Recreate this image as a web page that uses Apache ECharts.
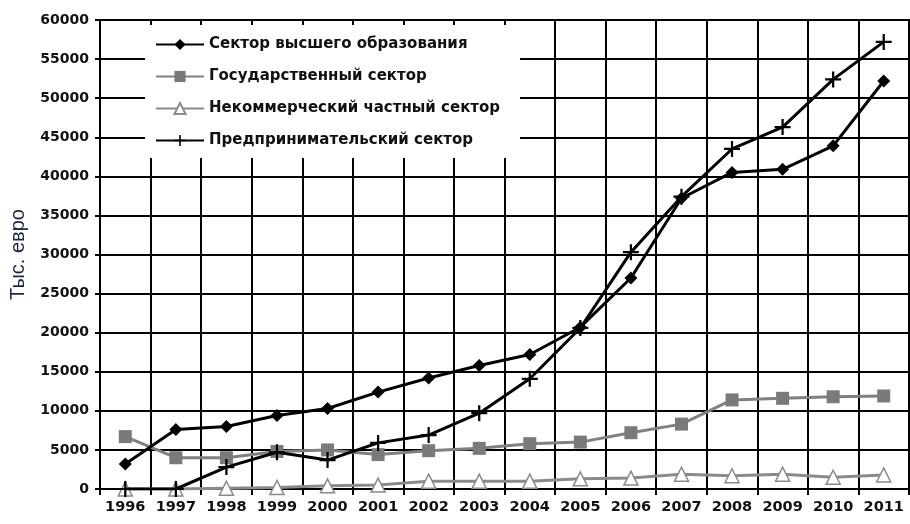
<!DOCTYPE html>
<html>
<head>
<meta charset="utf-8">
<script src="https://cdn.jsdelivr.net/npm/echarts@6/dist/echarts.min.js"></script>
<style>
  html, body { margin: 0; padding: 0; background: #fff; }
  #chart { width: 910px; height: 524px; }
</style>
</head>
<body>
<div id="chart"></div>
<script>
// годы
var years = ['1996','1997','1998','1999','2000','2001','2002','2003','2004','2005','2006','2007','2008','2009','2010','2011'];
// тыс. евро по секторам
var higherEdu = [3200, 7600, 8000, 9400, 10300, 12400, 14200, 15800, 17200, 20700, 27000, 37200, 40500, 40900, 43900, 52200];
var government = [6700, 4000, 4000, 4800, 5000, 4400, 4900, 5200, 5800, 6000, 7200, 8300, 11400, 11600, 11800, 11900];
var nonProfit = [0, 0, 100, 200, 400, 500, 1000, 1000, 1000, 1300, 1400, 1900, 1700, 1900, 1500, 1800];
var business = [0, 0, 2800, 4700, 3700, 5900, 6900, 9700, 14100, 20600, 30300, 37400, 43500, 46300, 52400, 57200];

var names = ['Сектор высшего образования', 'Государственный сектор', 'Некоммерческий частный сектор', 'Предпринимательский сектор'];

var chart = echarts.init(document.getElementById('chart'));
var boldFont = 'DejaVu Sans, sans-serif';
var plus = 'path://M4.3,0h1.4v10h-1.4z M0,4.3h10v1.4h-10z';

var option = {
  animation: false,
  textStyle: { fontFamily: boldFont },
  grid: {
    left: 100, right: 1, top: 20, bottom: 35,
    outerBoundsMode: 'none',
    show: true, borderColor: '#000', borderWidth: 2
  },
  legend: {
    orient: 'vertical',
    left: 145,
    top: 25,
    padding: [12, 20, 10, 10],
    itemGap: 17,
    itemWidth: 48,
    itemHeight: 14,
    backgroundColor: '#fff',
    textStyle: { fontFamily: boldFont, fontWeight: 'bold', fontSize: 15, color: '#111' },
    data: names
  },
  xAxis: {
    type: 'category',
    data: years,
    boundaryGap: true,
    axisLine: { lineStyle: { color: '#000', width: 2 } },
    axisTick: { show: true, length: 6, lineStyle: { color: '#000', width: 2 } },
    axisLabel: { color: '#111', fontWeight: 'bold', fontSize: 14.5, margin: 11, interval: 0 },
    splitLine: { show: true, lineStyle: { color: '#000', width: 2 } }
  },
  yAxis: {
    type: 'value',
    min: 0,
    max: 60000,
    interval: 5000,
    name: 'Тыс. евро',
    nameLocation: 'middle',
    nameGap: 72,
    nameTextStyle: { color: '#1c2744', fontSize: 20, fontFamily: 'Liberation Sans, Arial, sans-serif' },
    axisLine: { show: true, lineStyle: { color: '#000', width: 2 } },
    axisTick: { show: true, length: 5, lineStyle: { color: '#000', width: 2 } },
    axisLabel: {
      color: '#111', fontWeight: 'bold', fontSize: 14, margin: 11,
      formatter: function (v) { return String(v); }
    },
    splitLine: { show: true, lineStyle: { color: '#000', width: 2 } }
  },
  series: [
    {
      name: names[0], type: 'line', data: higherEdu,
      symbol: 'diamond', symbolSize: 13,
      lineStyle: { color: '#000', width: 3 },
      itemStyle: { color: '#000' }, z: 5
    },
    {
      name: names[1], type: 'line', data: government,
      symbol: 'rect', symbolSize: 13,
      lineStyle: { color: '#808080', width: 3 },
      itemStyle: { color: '#7a7a7a' }, z: 3
    },
    {
      name: names[2], type: 'line', data: nonProfit,
      symbol: 'triangle', symbolSize: 14,
      lineStyle: { color: '#8a8a8a', width: 3 },
      itemStyle: { color: '#fff', borderColor: '#8a8a8a', borderWidth: 1.5 }, z: 3
    },
    {
      name: names[3], type: 'line', data: business,
      symbol: plus, symbolSize: 16, showAllSymbol: true,
      lineStyle: { color: '#000', width: 3 },
      itemStyle: { color: '#000' }, z: 4
    }
  ]
};
chart.setOption(option);
</script>
</body>
</html>
